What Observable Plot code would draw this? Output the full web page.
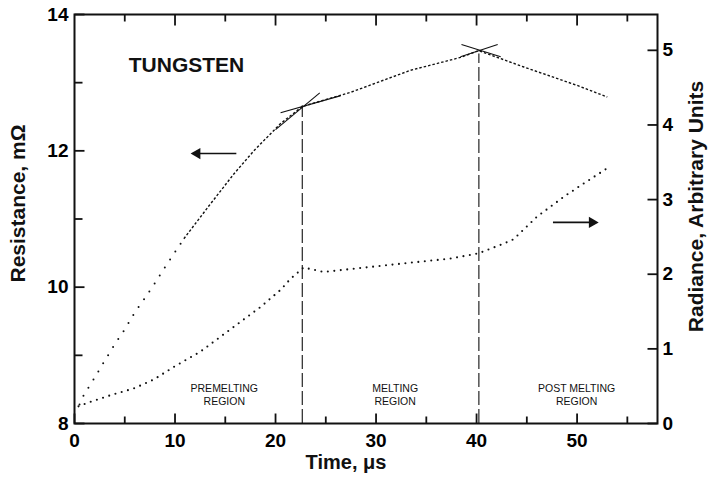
<!DOCTYPE html>
<html><head><meta charset="utf-8">
<script src="https://cdn.jsdelivr.net/npm/d3@7"></script>
<script src="https://cdn.jsdelivr.net/npm/@observablehq/plot@0.6"></script>
<style>body{margin:0;background:#fff} svg{display:block}</style>
</head><body><div id="chart"></div>
<script>
// ---- data ----
const resTime  = [0.5, 0.9, 1.4, 2.0, 3.0, 4.0, 5.0, 6.0, 7.0, 8.0, 8.9, 10.88, 13.36, 15.85, 17.84, 20.5, 22.66, 27.5, 33.4, 38.4, 40.2, 44.7, 50.0, 53.0];
const resValue = [8.28, 8.41, 8.53, 8.67, 8.92, 9.16, 9.38, 9.63, 9.84, 10.06, 10.27, 10.71, 11.19, 11.66, 12.0, 12.4, 12.65, 12.86, 13.18, 13.37, 13.47, 13.23, 12.96, 12.79];
const radTime  = [0.4, 1.6, 3.6, 5.9, 7.9, 9.9, 12.5, 14.5, 16.5, 18.5, 20.5, 21.5, 22.8, 24.8, 27.5, 32.4, 37.4, 40.2, 42.7, 43.7, 46.0, 48.7, 50.7, 53.0];
const radValue = [0.23, 0.29, 0.38, 0.47, 0.59, 0.76, 0.96, 1.16, 1.36, 1.56, 1.79, 1.94, 2.09, 2.03, 2.07, 2.14, 2.21, 2.28, 2.41, 2.47, 2.77, 3.04, 3.22, 3.42];

const xDomain = [0, 58];
const resDomain = [8, 14];
const radDomain = [0, 5.48];
const xMajor = [0, 10, 20, 30, 40, 50];
const xMinor = [5, 15, 25, 35, 45, 55];
const resMajor = [8, 10, 12, 14];
const resMinor = [9, 11, 13];
const radTicks = [0, 1, 2, 3, 4, 5];

const meltBounds = [22.66, 40.23];
const meltTops = [12.66, 13.42];

const tangentX1 = [20.0, 20.5, 38.5, 42.1];
const tangentY1 = [12.31, 12.56, 13.56, 13.56];
const tangentX2 = [24.4, 26.5, 42.4, 38.4];
const tangentY2 = [12.85, 12.81, 13.38, 13.38];

const arrowX1 = [16.1, 47.6];
const arrowX2 = [12.2, 51.5];
const arrowY  = [11.96, 10.95];

const regionNames = ["PREMELTING\nREGION", "MELTING\nREGION", "POST MELTING\nREGION"];
const regionX = [14.9, 31.9, 49.95];
const regionY = [8.43, 8.43, 8.43];

const titleText = "TUNGSTEN";
const titleX = 5.4, titleY = 13.25;

// ---- layout ----
const W = 708, H = 482, mL = 74, mR = 51, mT = 14, mB = 59;
const plotW = W - mL - mR, plotH = H - mT - mB;
const xPerPx = (xDomain[1] - xDomain[0]) / plotW;
const yPerPx = (resDomain[1] - resDomain[0]) / plotH;

// ---- helpers: radiance mapped onto the resistance (left) scale ----
const k = (resDomain[1] - resDomain[0]) / (radDomain[1] - radDomain[0]);
const radToY = r => resDomain[0] + (r - radDomain[0]) * k;
const yToRad = y => (y - resDomain[0]) / k + radDomain[0];

const res = resTime.map((t, i) => ({t, v: resValue[i]}));
const resEarly = res.filter(d => d.t <= 10.9);
const resLate = res.filter(d => d.t >= 10.88);
const rad = radTime.map((t, i) => ({t, v: radToY(radValue[i])}));
const melt = meltBounds.map((t, i) => ({t, top: meltTops[i]}));
const tangents = tangentX1.map((x1, i) => ({x1, y1: tangentY1[i], x2: tangentX2[i], y2: tangentY2[i]}));
const arrows = arrowX1.map((x1, i) => ({x1, x2: arrowX2[i], y: arrowY[i]}));
const regions = regionNames.map((name, i) => ({name, x: regionX[i], y: regionY[i]}));

// inward tick segments built from the tick arrays (lengths in pixels)
const tickSegs = [
  ...xMajor.map(t => ({x1: t, x2: t, y1: resDomain[0], y2: resDomain[0] + 10 * yPerPx})),
  ...xMinor.map(t => ({x1: t, x2: t, y1: resDomain[0], y2: resDomain[0] + 7 * yPerPx})),
  ...xMajor.slice(1).map(t => ({x1: t, x2: t, y1: resDomain[1] - 11 * yPerPx, y2: resDomain[1]})),
  ...xMinor.map(t => ({x1: t, x2: t, y1: resDomain[1] - 7 * yPerPx, y2: resDomain[1]})),
  ...resMajor.map(v => ({x1: xDomain[0], x2: xDomain[0] + 10 * xPerPx, y1: v, y2: v})),
  ...resMinor.map(v => ({x1: xDomain[0], x2: xDomain[0] + 8 * xPerPx, y1: v, y2: v})),
  ...radTicks.map(r => ({x1: xDomain[1] - 10 * xPerPx, x2: xDomain[1], y1: radToY(r), y2: radToY(r)}))
];

const font = "Liberation Sans, Arial, Helvetica, sans-serif";

const chart = Plot.plot({
  width: W, height: H,
  marginLeft: mL, marginRight: mR, marginTop: mT, marginBottom: mB,
  style: {fontFamily: font, background: "#fff", color: "#000"},
  x: {domain: xDomain},
  y: {domain: resDomain},
  marks: [
    Plot.ruleX(melt, {x: "t", y1: resDomain[0], y2: "top", stroke: "#111", strokeWidth: 1.1, strokeDasharray: "14,4"}),
    Plot.line(resEarly, {x: "t", y: "v", stroke: "#111", strokeWidth: 2, strokeDasharray: "0,9.5", strokeLinecap: "round"}),
    Plot.line(resLate, {x: "t", y: "v", stroke: "#111", strokeWidth: 1.4, strokeDasharray: "2.5,2", strokeLinecap: "butt"}),
    Plot.line(rad, {x: "t", y: "v", stroke: "#111", strokeWidth: 2.1, strokeDasharray: "0,6.5", strokeLinecap: "round"}),
    Plot.link(tangents, {x1: "x1", y1: "y1", x2: "x2", y2: "y2", stroke: "#111", strokeWidth: 1.1}),
    Plot.link(arrows, {x1: "x1", x2: "x2", y1: "y", y2: "y", stroke: "#111", strokeWidth: 1.6}),
    Plot.dot(arrows, {x: "x2", y: "y", symbol: "triangle", r: 4.2, rotate: d => d.x2 < d.x1 ? -90 : 90, fill: "#111", stroke: "none"}),
    Plot.text([titleText], {x: titleX, y: titleY, textAnchor: "start", fontSize: 21, fontWeight: "bold", fill: "#111"}),
    Plot.text(regions, {x: "x", y: "y", text: "name", fontSize: 10.5, lineHeight: 1.3, fill: "#111"}),
    Plot.frame({stroke: "#111", strokeWidth: 2}),
    // inward tick marks
    Plot.link(tickSegs, {x1: "x1", x2: "x2", y1: "y1", y2: "y2", stroke: "#111", strokeWidth: 1.8}),
    Plot.axisX({anchor: "bottom", ticks: xMajor, tickFormat: d => String(d), tickSize: 0, tickPadding: 9.5, fontSize: 19, fontWeight: "bold", label: null}),
    Plot.axisY({anchor: "left", ticks: resMajor, tickFormat: d => String(d), tickSize: 0, tickPadding: 6, fontSize: 19, fontWeight: "bold", label: null}),
    Plot.axisY({anchor: "right", ticks: radTicks.map(radToY), tickFormat: d => String(Math.round(yToRad(d))), tickSize: 0, tickPadding: 5, fontSize: 19, fontWeight: "bold", label: null}),
    Plot.text(["Time, μs"], {frameAnchor: "bottom", textAnchor: "middle", dx: -20, dy: 45, fontSize: 20, fontWeight: "bold", fill: "#111"}),
    Plot.text(["Resistance, mΩ"], {frameAnchor: "left", textAnchor: "middle", rotate: -90, dx: -56.5, dy: -15.5, fontSize: 21, fontWeight: "bold", fill: "#111"}),
    Plot.text(["Radiance, Arbitrary Units"], {frameAnchor: "right", textAnchor: "middle", rotate: -90, dx: 39, dy: -12.5, fontSize: 21, fontWeight: "bold", fill: "#111"})
  ]
});
document.getElementById("chart").appendChild(chart);
</script>
</body></html>
